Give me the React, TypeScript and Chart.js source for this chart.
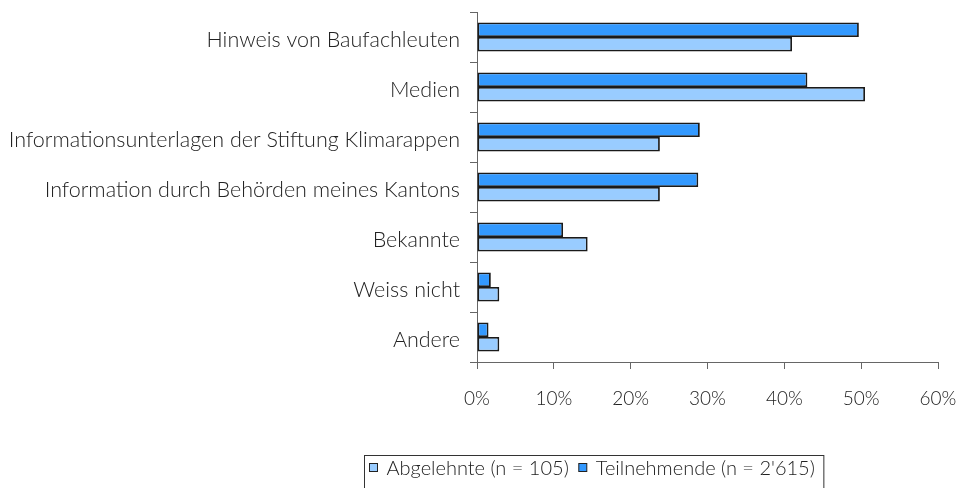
import React, { useEffect, useRef } from "react";
import { Chart, registerables } from "chart.js";

Chart.register(...registerables);

const categories = [
  "Hinweis von Baufachleuten",
  "Medien",
  "Informationsunterlagen der Stiftung Klimarappen",
  "Information durch Behörden meines Kantons",
  "Bekannte",
  "Weiss nicht",
  "Andere",
];
const teilnehmende = [49.7, 43.0, 29.0, 28.8, 11.2, 1.8, 1.5];
const abgelehnte = [41.0, 50.5, 23.8, 23.8, 14.4, 2.9, 2.9];
const xTicks = [0, 10, 20, 30, 40, 50, 60];
const labelTeil = "Teilnehmende (n = 2'615)";
const labelAbg = "Abgelehnte (n = 105)";

const FONT = "Lato, 'Open Sans', sans-serif";
const DARK = "#3399FF";
const LIGHT = "#99CCFF";

const boxLegend = {
  id: "boxLegend",
  afterDraw(chart: any) {
    const ctx = chart.ctx as CanvasRenderingContext2D;
    const items = [...chart.data.datasets].reverse();
    ctx.save();
    ctx.font = `300 20px ${FONT}`;
    const sq = 8;
    const gapSqText = 9;
    const gapItems = 10;
    const padL = 5;
    const padR = 9;
    let total = padL;
    items.forEach((d: any, i: number) => {
      total += sq + gapSqText + ctx.measureText(d.label).width;
      if (i < items.length - 1) total += gapItems;
    });
    total += padR;
    const cx = 593.5;
    const left = Math.round(cx - total / 2) + 0.5;
    const top = 455.5;
    const h = 40;
    ctx.strokeStyle = "#333";
    ctx.lineWidth = 1;
    ctx.strokeRect(left, top, total, h);
    let x = left + padL;
    const cy = 467.5;
    items.forEach((d: any) => {
      ctx.fillStyle = d.backgroundColor;
      ctx.fillRect(x, cy - sq / 2, sq, sq);
      ctx.strokeStyle = "#222";
      ctx.lineWidth = 1;
      ctx.strokeRect(x, cy - sq / 2, sq, sq);
      x += sq + gapSqText;
      ctx.fillStyle = "#222";
      ctx.textBaseline = "middle";
      ctx.textAlign = "left";
      ctx.fillText(d.label, x, cy + 1);
      x += ctx.measureText(d.label).width + gapItems;
    });
    ctx.restore();
  },
};

export default function App() {
  const ref = useRef<HTMLCanvasElement>(null);
  useEffect(() => {
    const chart = new Chart(ref.current as HTMLCanvasElement, {
      type: "bar",
      data: {
        labels: categories,
        datasets: [
          {
            label: labelTeil,
            data: teilnehmende,
            backgroundColor: DARK,
            borderColor: "#1a1a1a",
            borderWidth: 1.8,
            borderSkipped: false,
          },
          {
            label: labelAbg,
            data: abgelehnte,
            backgroundColor: LIGHT,
            borderColor: "#1a1a1a",
            borderWidth: 1.8,
            borderSkipped: false,
          },
        ],
      },
      options: {
        indexAxis: "y",
        animation: false,
        responsive: false,
        maintainAspectRatio: false,
        layout: { padding: { top: 12, right: 24, left: 0, bottom: 0 } },
        datasets: { bar: { barPercentage: 1, categoryPercentage: 0.58 } },
        plugins: {
          legend: { display: false },
          tooltip: { enabled: false },
        },
        scales: {
          x: {
            min: 0,
            max: 60,
            afterFit(scale: any) {
              scale.height = 126;
              scale.paddingLeft = 0;
              scale.paddingRight = 0;
            },
            afterBuildTicks(scale: any) {
              scale.ticks = xTicks.map((v) => ({ value: v }));
            },
            ticks: {
              callback: (v: any) => `${v}%`,
              color: "#222",
              font: { family: FONT, size: 19, weight: "300" },
              padding: 18,
            },
            grid: {
              drawOnChartArea: false,
              tickLength: 7,
              color: "#666",
            },
            border: { color: "#666", width: 1 },
          },
          y: {
            afterFit(scale: any) {
              scale.width = 477;
              scale.paddingTop = 0;
              scale.paddingBottom = 0;
            },
            ticks: {
              color: "#222",
              font: { family: FONT, size: 21.5, weight: "300" },
              padding: 10,
              labelOffset: 3,
            },
            grid: {
              offset: true,
              drawOnChartArea: false,
              tickLength: 7,
              color: "#666",
            },
            border: { color: "#666", width: 1 },
          },
        },
      },
      plugins: [boxLegend],
    });
    return () => chart.destroy();
  }, []);
  return (
    <div style={{ position: "fixed", left: 0, top: 0, width: 962, height: 488, background: "#fff" }}>
      <canvas ref={ref} width={962} height={488} style={{ width: 962, height: 488 }} />
    </div>
  );
}
